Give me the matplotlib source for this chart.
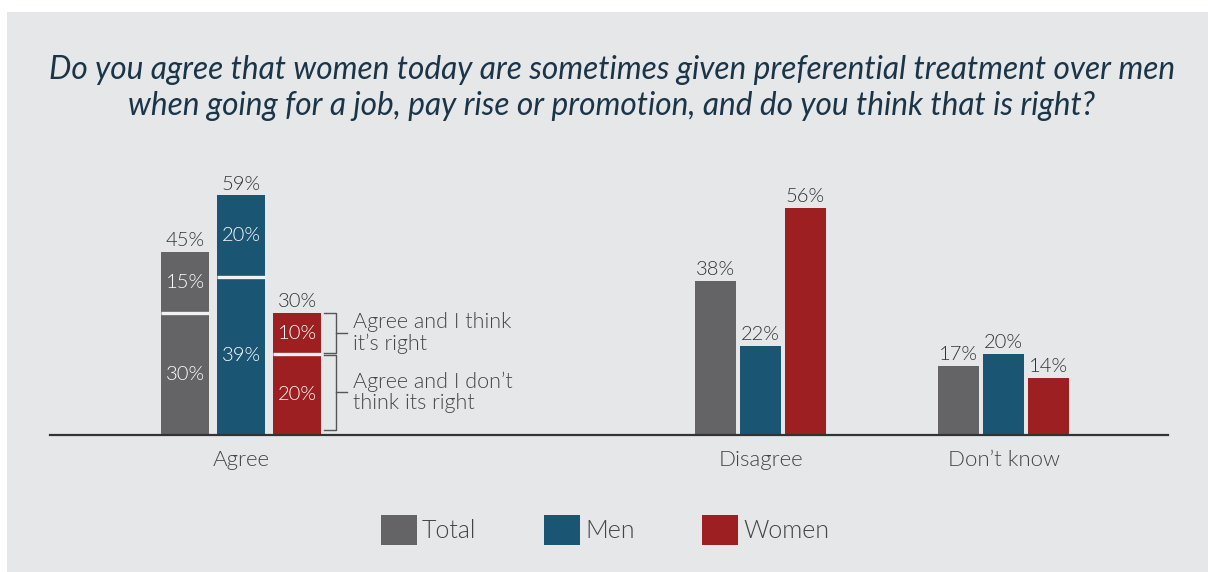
import matplotlib.pyplot as plt
from matplotlib.patches import Rectangle, Patch
import numpy as np

plt.rcParams['font.family'] = ['Lato', 'DejaVu Sans']
plt.rcParams['font.weight'] = 300

# Survey answers (percent)
categories = ['Agree', 'Disagree', 'Don\u2019t know']
series = ['Total', 'Men', 'Women']
agree_right = [15, 20, 10]        # agree, and think it's right
agree_not_right = [30, 39, 20]    # agree, but don't think it's right
agree_total = [45, 59, 30]
disagree = [38, 22, 56]
dont_know = [17, 20, 14]

colors = ['#646466', '#1b5574', '#9e1f21']
panel = '#e6e7e9'
ink = '#333333'

fig = plt.figure(figsize=(12.08, 5.72), dpi=100)
fig.patch.set_facecolor('white')
fig.patches.append(Rectangle((7 / 1208, 0), 1, 560 / 572, transform=fig.transFigure,
                             facecolor=panel, edgecolor='none', zorder=-10))

ax = fig.add_axes([50 / 1208, 137 / 572, 1118 / 1208, 260 / 572])
ax.set_facecolor('none')
ax.set_xlim(50, 1168)
ax.set_ylim(0, 64)

# group centres and bar geometry (axis units are pixels across)
centers = [241, 760.5, 1003.5]
wide, wide_step = 48, 56
narrow, narrow_step = 41, 45

lab_kw = dict(ha='center', fontsize=14.5, color=ink, fontweight=350)

# Agree: stacked bars
for i, s in enumerate(series):
    x = centers[0] + (i - 1) * wide_step
    ax.bar(x, agree_not_right[i], width=wide, color=colors[i])
    ax.bar(x, agree_right[i], bottom=agree_not_right[i], width=wide, color=colors[i])
    ax.hlines(agree_not_right[i], x - wide / 2, x + wide / 2, color='#f2f2f2', lw=2.4, zorder=3)
    ax.text(x, agree_not_right[i] / 2, f'{agree_not_right[i]}%', va='center',
            **{**lab_kw, 'color': 'white'})
    ax.text(x, agree_not_right[i] + agree_right[i] / 2, f'{agree_right[i]}%', va='center',
            **{**lab_kw, 'color': 'white'})
    ax.annotate(f'{agree_total[i]}%', (x, agree_total[i]), xytext=(0, 2),
                textcoords='offset points', va='bottom', **lab_kw)

# Disagree / Don't know: simple bars
for c, vals in zip(centers[1:], [disagree, dont_know]):
    for i, s in enumerate(series):
        x = c + (i - 1) * narrow_step
        ax.bar(x, vals[i], width=narrow, color=colors[i])
        ax.annotate(f'{vals[i]}%', (x, vals[i]), xytext=(0, 2),
                    textcoords='offset points', va='bottom', **lab_kw)

# brackets next to the women's stacked bar
bx = centers[0] + wide_step + wide / 2 + 3
def bracket(y0, y1, label):
    ax.plot([bx, bx + 12, bx + 12, bx], [y0, y0, y1, y1], color='#555555', lw=1)
    ax.plot([bx + 12, bx + 23], [(y0 + y1) / 2] * 2, color='#555555', lw=1)
    ax.text(bx + 29, (y0 + y1) / 2, label, ha='left', va='center', fontsize=15.5,
            color='#444444', linespacing=1.05)

w = 2
bracket(agree_not_right[w] + 0.2, agree_total[w], 'Agree and I think\nit\u2019s right')
bracket(1.2, agree_not_right[w] - 0.2, 'Agree and I don\u2019t\nthink its right')

ax.set_xticks(centers)
ax.set_xticklabels(categories, fontsize=16, color='#444444')
ax.tick_params(axis='x', length=0, pad=11)
ax.set_yticks([])
for side in ['top', 'right', 'left']:
    ax.spines[side].set_visible(False)
ax.spines['bottom'].set_color(ink)
ax.spines['bottom'].set_linewidth(1.6)

fig.text(612 / 1208, 1 - 88 / 572,
         'Do you agree that women today are sometimes given preferential treatment over men\n'
         'when going for a job, pay rise or promotion, and do you think that is right?',
         ha='center', va='center', fontsize=22.8, style='italic', fontweight='normal',
         color='#1a3548', linespacing=1.25)

handles = [Patch(facecolor=c, edgecolor='none') for c in colors]
fig.legend(handles, series, loc='center', bbox_to_anchor=(605 / 1208, 1 - 530 / 572),
           ncol=3, frameon=False, fontsize=18, handlelength=1.45, handleheight=1.45,
           handletextpad=0.2, columnspacing=2.7, labelcolor='#444444')

fig.savefig('out.png', dpi=100, facecolor=fig.get_facecolor())
